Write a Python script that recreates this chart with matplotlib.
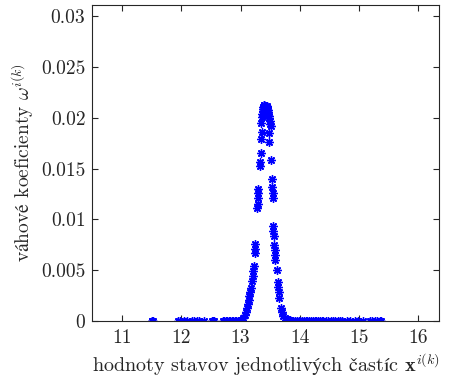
import matplotlib
matplotlib.use("Agg")
import matplotlib.pyplot as plt

plt.rcParams['mathtext.fontset'] = 'cm'
plt.rcParams['font.family'] = ['cmr10', 'STIXGeneral', 'DejaVu Serif']
plt.rcParams['axes.formatter.use_mathtext'] = True

# particle states (x) and their weights (w)
x_left_tail = [11.50, 11.51, 11.53, 11.95, 11.98, 12.05, 12.10, 12.18, 12.22, 12.27,
               12.30, 12.38, 12.52, 12.54, 12.56, 12.70, 12.72, 12.75, 12.78, 12.80,
               12.83, 12.86, 12.88, 12.90, 12.93, 12.95, 12.97, 13.00, 13.02]
w_left_tail = [0.0] * 27 + [0.00005, 0.0001]

x_rise = [13.04, 13.075, 13.09, 13.11, 13.126, 13.14, 13.15, 13.16, 13.17, 13.20,
          13.21, 13.216, 13.22, 13.24, 13.245, 13.25, 13.283, 13.287, 13.295, 13.30,
          13.303, 13.329, 13.333, 13.34, 13.34, 13.357]
w_rise = [0.0003, 0.0006, 0.0009, 0.0013, 0.0017, 0.0021, 0.0025, 0.0029, 0.0032, 0.0039,
          0.0044, 0.0049, 0.0054, 0.0067, 0.0071, 0.0076, 0.0111, 0.0115, 0.0121, 0.0126,
          0.0130, 0.0153, 0.0156, 0.0165, 0.0179, 0.0186]

x_peak = [13.35, 13.36, 13.37, 13.375, 13.38, 13.385, 13.39, 13.395, 13.40,
          13.41, 13.415, 13.42, 13.43, 13.44, 13.45, 13.455, 13.46, 13.465, 13.47,
          13.475, 13.48, 13.49, 13.50, 13.51]
w_peak = [0.0195, 0.0201, 0.0204, 0.0207, 0.0209, 0.0211, 0.0212, 0.0213, 0.0213,
          0.0212, 0.0211, 0.0210, 0.0209, 0.0211, 0.0212, 0.0210, 0.0208, 0.0206, 0.0204,
          0.0202, 0.0200, 0.0197, 0.0194, 0.0192]

x_fall = [13.486, 13.486, 13.509, 13.526, 13.526, 13.543, 13.543, 13.553, 13.556, 13.56,
          13.573, 13.577, 13.58, 13.585, 13.62, 13.633, 13.638, 13.643, 13.65, 13.69,
          13.70, 13.72, 13.75, 13.78]
w_fall = [0.0185, 0.0176, 0.0158, 0.0140, 0.0132, 0.0126, 0.0121, 0.0093, 0.0089, 0.0084,
          0.0075, 0.0070, 0.0065, 0.0060, 0.0050, 0.0038, 0.0033, 0.0029, 0.0023, 0.0013,
          0.0009, 0.0005, 0.0003, 0.00015]

x_right_tail = [13.80, 13.83, 13.86, 13.89, 13.92, 13.95, 13.98, 14.01, 14.04, 14.07,
                14.10, 14.13, 14.16, 14.19, 14.22, 14.25, 14.28, 14.31, 14.34, 14.37,
                14.40, 14.44, 14.48, 14.52, 14.56, 14.60, 14.64, 14.68, 14.71, 14.80,
                14.85, 14.93, 14.98, 15.07, 15.18, 15.22, 15.27, 15.30, 15.35, 15.38]
w_right_tail = [0.0001, 0.00005] + [0.0] * 38

x_ticks = [11, 12, 13, 14, 15, 16]
y_ticks = [0, 0.005, 0.01, 0.015, 0.02, 0.025, 0.03]
y_tick_labels = ['0', '0.005', '0.01', '0.015', '0.02', '0.025', '0.03']

xs = x_left_tail + x_rise + x_peak + x_fall + x_right_tail
ws = w_left_tail + w_rise + w_peak + w_fall + w_right_tail

fig = plt.figure(figsize=(4.53, 3.81), dpi=100)
ax = fig.add_axes([0.204, 0.1575, 0.765, 0.8295])
ax.plot(xs, ws, linestyle='none', marker=(8, 2, 0), color='b', ms=6, mew=1)

ax.set_xlim(10.5, 16.35)
ax.set_ylim(0, 0.0311)
ax.set_xticks(x_ticks)
ax.set_xticklabels([str(t) for t in x_ticks])
ax.set_yticks(y_ticks)
ax.set_yticklabels(y_tick_labels)

dark = (0.15, 0.15, 0.15)
for s in ax.spines.values():
    s.set_color(dark)
    s.set_linewidth(0.8)
ax.tick_params(direction='in', length=4, width=0.8, top=True, right=True,
               labelsize=14, colors=dark, labelcolor=dark)
ax.tick_params(axis='x', pad=6)
ax.tick_params(axis='y', pad=5)

# accented letters go through mathtext \mathrm, the BaKoMa text font lacks them
ax.set_xlabel('hodnoty stavov jednotliv$\\mathrm{\u00fd}$ch $\\mathrm{\u010d}$ast$\\mathrm{\u00ed}$c $\\mathbf{x}^{i(k)}$',
              fontsize=14.5, color=dark, labelpad=3)
ax.set_ylabel('v$\\mathrm{\u00e1}$hov$\\mathrm{\u00e9}$ koeficienty $\\omega^{i(k)}$',
              fontsize=14, color=dark, labelpad=4)

fig.savefig('out.png', dpi=100)
